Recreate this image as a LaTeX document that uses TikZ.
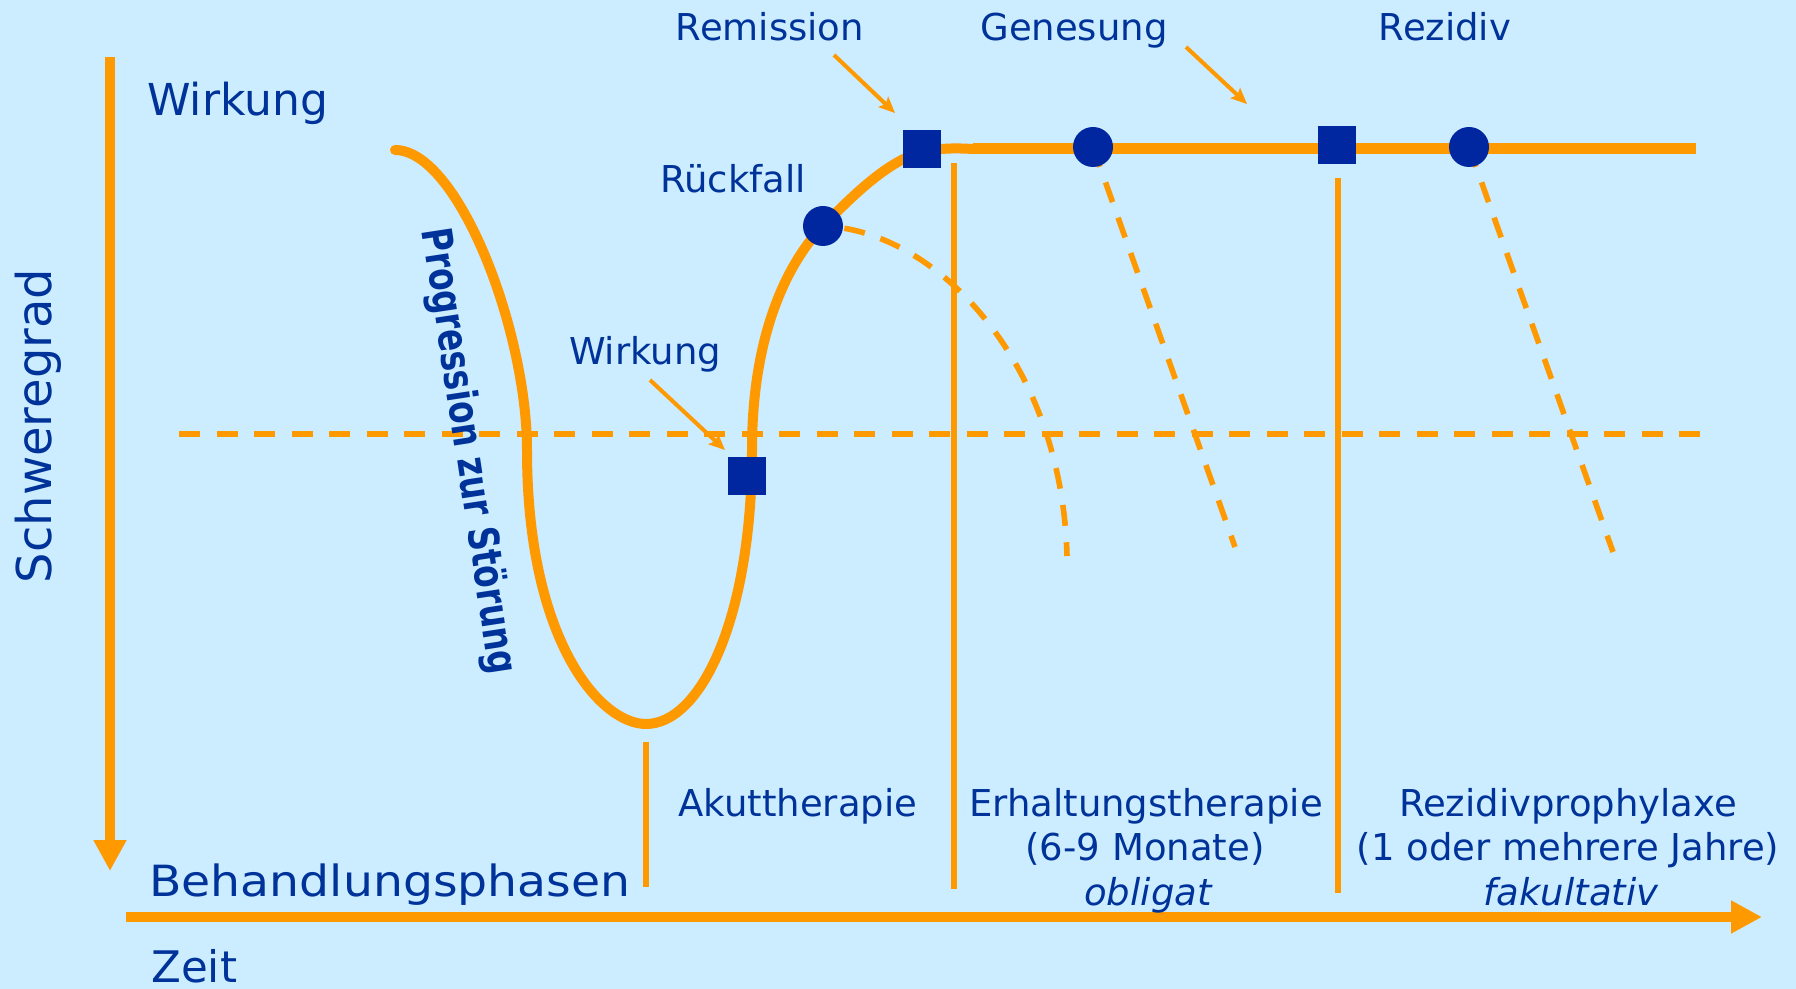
\documentclass[tikz,border=0pt]{standalone}
\usepackage{fontspec}
\usepackage{graphicx}
\setmainfont{DejaVu Sans}
\usetikzlibrary{arrows.meta}
\definecolor{bgc}{HTML}{CCECFF}
\definecolor{org}{HTML}{FF9900}
\definecolor{txt}{HTML}{003399}
\definecolor{mk}{HTML}{0026A0}
\pgfdeclarelayer{back}
\pgfsetlayers{back,main}
\begin{document}
\begin{tikzpicture}[x=0.5pt,y=-0.5pt,
  lab/.style={text=txt, inner sep=0pt, font=\fontsize{18.5pt}{22pt}\selectfont},
  sq/.style={fill=mk, minimum size=19pt, inner sep=0pt},
  dot/.style={circle, fill=mk, minimum size=20pt, inner sep=0pt},
  crv/.style={draw=org, line width=5pt, line cap=round},
  topline/.style={draw=org, line width=5.5pt},
  dsh/.style={draw=org, line width=2.8pt, dash pattern=on 10.5pt off 8.25pt},
  vline/.style={draw=org, line width=3pt},
  ptr/.style={draw=org, line width=2pt, -{Stealth[length=8pt,width=7pt,inset=1.5pt]}},
  axis/.style={draw=org, line width=5pt, -{Triangle[length=15.5pt,width=15.5pt]}}
]
\useasboundingbox (0,0) rectangle (1796,989);

% markers
\node[sq]  (m1) at (747,476) {};
\node[dot] (c1) at (823,226) {};
\node[sq]  (m2) at (922,149) {};
\node[dot] (c2) at (1093,147) {};
\node[sq]  (m3) at (1337,145) {};
\node[dot] (c3) at (1469,147) {};

% free ends
\coordinate (ax1s) at (110,57);
\coordinate (ax1e) at (110,871);
\coordinate (ax2s) at (126,917);
\coordinate (ax2e) at (1762,917);
\coordinate (hd1) at (179,434);
\coordinate (hd2) at (1716,434);
\coordinate (v1s) at (646,742);
\coordinate (v1e) at (646,887);
\coordinate (v2s) at (954,163);
\coordinate (v2e) at (954,889);
\coordinate (v3s) at (1338,178);
\coordinate (v3e) at (1338,893);
\coordinate (e1) at (1067,556);
\coordinate (e2) at (1235,547);
\coordinate (e3) at (1613,552);
\coordinate (p1s) at (834,55);
\coordinate (p1e) at (895,113);
\coordinate (p2s) at (1186,47);
\coordinate (p2e) at (1247,104);
\coordinate (p3s) at (650,380);
\coordinate (p3e) at (725,450);
\coordinate (ts) at (973,149);
\coordinate (te) at (1696,149);

\begin{pgfonlayer}{back}
\fill[bgc] (0,0) rectangle (1796,989);
% dashed threshold
\draw[dsh] (hd1) -- (hd2);
% dashed declines
\draw[dsh, dash phase=8pt] (c1.center) .. controls (935,230) and (1062,360) .. (e1);
\draw[dsh] (c2.center) -- (e2);
\draw[dsh] (c3.center) -- (e3);
% phase separators
\draw[vline] (v1s) -- (v1e);
\draw[vline] (v2s) -- (v2e);
\draw[vline] (v3s) -- (v3e);
% main course
\draw[crv] (395,150) .. controls (458,150) and (527,330) .. (527,450)
  .. controls (527,640) and (600,724) .. (646,724)
  .. controls (700,724) and (752,620) .. (752,450)
  .. controls (752,330) and (790,260) .. (823,226)
  .. controls (856,192) and (890,160) .. (922,152)
  .. controls (940,148) and (955,148) .. (ts);
\draw[topline] (ts) -- (te);
% axes
\draw[axis] (ax1s) -- (ax1e);
\draw[axis] (ax2s) -- (ax2e);
% pointers
\draw[ptr] (p1s) -- (p1e);
\draw[ptr] (p2s) -- (p2e);
\draw[ptr] (p3s) -- (p3e);
\end{pgfonlayer}

% labels
\node[lab, anchor=base west, font=\fontsize{22pt}{26pt}\selectfont] (wtop) at (147,116) {Wirkung};
\node[lab, anchor=base] (remi) at (770,41) {Remission};
\node[lab, anchor=base] (gene) at (1074,41) {Genesung};
\node[lab, anchor=base] (rezi) at (1445,41) {Rezidiv};
\node[lab, anchor=base] (rueck) at (733,193) {Rückfall};
\node[lab, anchor=base] (wmid) at (645,365) {Wirkung};
\node[lab, anchor=base] (akut) at (798,817) {Akuttherapie};
\node[lab, anchor=base] (erh1) at (1146,817) {Erhaltungstherapie};
\node[lab, anchor=base] (erh2) at (1145,861) {(6-9 Monate)};
\node[lab, anchor=base] (erh3) at (1148,905) {\itshape obligat};
\node[lab, anchor=base] (rez1) at (1568,817) {Rezidivprophylaxe};
\node[lab, anchor=base] (rez2) at (1568,861) {(1 oder mehrere Jahre)};
\node[lab, anchor=base] (rez3) at (1571,905) {\itshape fakultativ};
\node[lab, anchor=base west, font=\fontsize{21.5pt}{26pt}\selectfont] (beh) at (149,896) {\scalebox{1.1}[1]{Behandlungsphasen}};
\node[lab, anchor=base west, font=\fontsize{21.75pt}{26pt}\selectfont] (zeit) at (151,982) {Zeit};
\node[lab, anchor=base, rotate=90, font=\fontsize{24pt}{28pt}\selectfont] (schw) at (51,426) {Schweregrad};
\node[lab, anchor=base, rotate=-81.3, font=\fontsize{21pt}{24pt}\selectfont\bfseries] (prog) at (456,453) {\scalebox{0.78}[1]{Progression zur Störung}};
\end{tikzpicture}
\end{document}
